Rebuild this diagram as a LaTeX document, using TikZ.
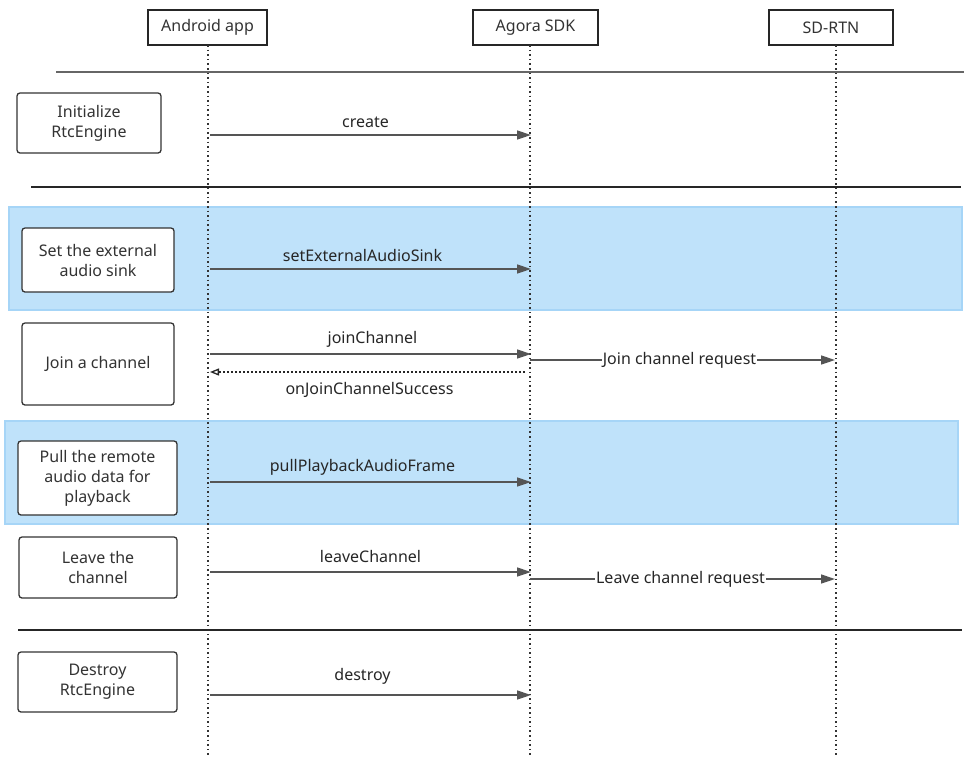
\documentclass[tikz,border=0pt]{standalone}
\usepackage{fontspec}
\setmainfont{Noto Sans}
\usetikzlibrary{arrows.meta}
\definecolor{band}{HTML}{BFE2FA}
\definecolor{bandline}{HTML}{A6D5F7}
\definecolor{arrowc}{HTML}{555555}
\begin{document}
\begin{tikzpicture}[x=1pt,y=-1pt,
  every node/.style={font=\fontsize{16}{20}\selectfont, text=black!80},
  actor/.style={draw=black!85, line width=1.3pt, minimum height=35pt, inner sep=0pt},
  stepbox/.style={draw=black!80, line width=1.3pt, rounded corners=3pt, fill=white, align=center, inner sep=0pt},
  life/.style={black!80, line width=1.6pt, dash pattern=on 1.6pt off 3pt},
  sep/.style={line width=1.5pt},
  msg/.style={arrowc, line width=1.5pt, -{Triangle[length=14pt,width=9pt]}},
  ret/.style={black!85, line width=1.5pt, dash pattern=on 1.6pt off 2.4pt, -{Triangle[open,length=9pt,width=7pt,line width=1.3pt]}},
  lbl/.style={text=black!85}
]
\useasboundingbox (0,0) rectangle (971,764);
% bands
\fill[band, draw=bandline, line width=1.5pt] (9,207) rectangle (962,310);
\fill[band, draw=bandline, line width=1.5pt] (5,421) rectangle (958,524);
% actors
\node[actor, minimum width=119pt] (app) at (207.5,27.5) {Android app};
\node[actor, minimum width=125pt] (sdk) at (535.5,27.5) {Agora SDK};
\node[actor, minimum width=124pt] (rtn) at (831,27.5) {SD-RTN};
% lifeline ends
\coordinate (append) at (208,757);
\coordinate (sdkend) at (530,757);
\coordinate (rtnend) at (836,757);
\draw[life] (208,45) -- (append);
\draw[life] (530,45) -- (sdkend);
\draw[life] (836,45) -- (rtnend);
% separators
\coordinate (s1a) at (56,72); \coordinate (s1b) at (964,72);
\coordinate (s2a) at (31,187); \coordinate (s2b) at (961,187);
\coordinate (s3a) at (18,630); \coordinate (s3b) at (962,630);
\draw[sep, black!60] (s1a) -- (s1b);
\draw[sep, black!85] (s2a) -- (s2b);
\draw[sep, black!85] (s3a) -- (s3b);
% step boxes
\node[stepbox, minimum width=144pt, minimum height=60pt] (b1) at (89,123) {Initialize\\RtcEngine};
\node[stepbox, minimum width=152pt, minimum height=64pt] (b2) at (98,260) {Set the external\\audio sink};
\node[stepbox, minimum width=152pt, minimum height=82pt] (b3) at (98,364) {Join a channel};
\node[stepbox, minimum width=159pt, minimum height=74pt] (b4) at (97.5,478) {Pull the remote\\audio data for\\playback};
\node[stepbox, minimum width=158pt, minimum height=61pt] (b5) at (98,567.5) {Leave the\\channel};
\node[stepbox, minimum width=159pt, minimum height=60pt] (b6) at (97.5,682) {Destroy\\RtcEngine};
% message coordinates
\coordinate (a1) at (210,135); \coordinate (k1) at (531,135);
\coordinate (a2) at (210,269); \coordinate (k2) at (531,269);
\coordinate (a3) at (210,354); \coordinate (k3) at (531,354);
\coordinate (k3r) at (525,372); \coordinate (a3r) at (210,372);
\coordinate (k3b) at (530,360); \coordinate (r3) at (835,360);
\coordinate (a4) at (210,482); \coordinate (k4) at (531,482);
\coordinate (a5) at (210,572); \coordinate (k5) at (531,572);
\coordinate (k5b) at (530,579); \coordinate (r5) at (835,579);
\coordinate (a6) at (210,695); \coordinate (k6) at (531,695);
% messages
\draw[msg] (a1) -- node[lbl, above=3pt, xshift=-5pt] {create} (k1);
\draw[msg] (a2) -- node[lbl, above=3pt, xshift=-8pt] {setExternalAudioSink} (k2);
\draw[msg] (a3) -- node[lbl, above=3pt, xshift=2pt] {joinChannel} (k3);
\draw[ret] (k3r) -- node[lbl, below=6pt, xshift=2pt] {onJoinChannelSuccess} (a3r);
\draw[msg] (k3b) -- node[lbl, fill=white, inner xsep=1pt, inner ysep=0pt, xshift=-3pt] {Join channel request} (r3);
\draw[msg] (a4) -- node[lbl, above=3pt, xshift=-8pt] {pullPlaybackAudioFrame} (k4);
\draw[msg] (a5) -- node[lbl, above=5pt] {leaveChannel} (k5);
\draw[msg] (k5b) -- node[lbl, fill=white, inner xsep=1pt, inner ysep=0pt, xshift=-2pt] {Leave channel request} (r5);
\draw[msg] (a6) -- node[lbl, above=7pt, xshift=-8pt] {destroy} (k6);
\end{tikzpicture}
\end{document}
